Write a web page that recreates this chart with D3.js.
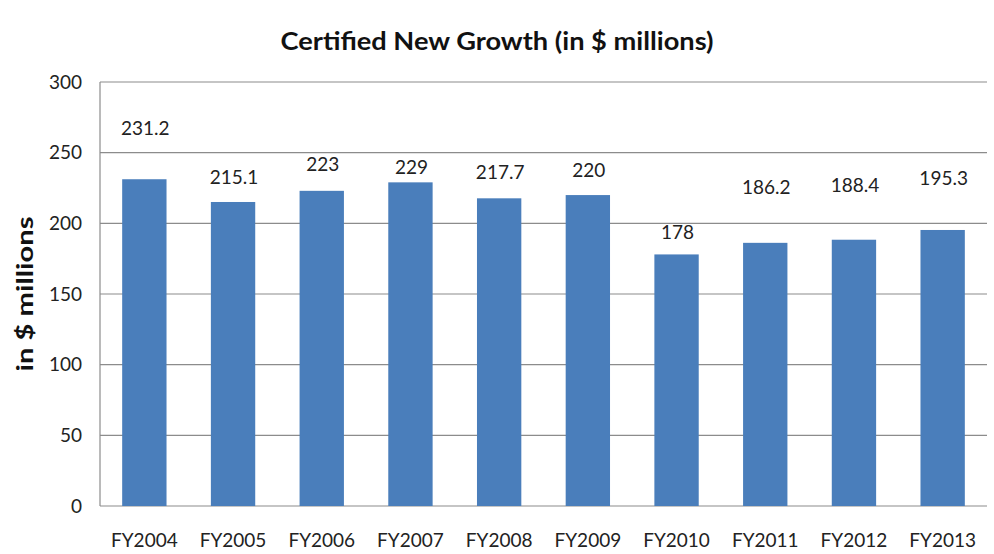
<!DOCTYPE html>
<html>
<head>
<meta charset="utf-8">
<script src="https://cdn.jsdelivr.net/npm/d3@7"></script>
<style>
  body { margin: 0; background: #fff; }
  svg { display: block; font-family: Lato, "Open Sans", sans-serif; }
</style>
</head>
<body>
<svg id="chart" width="994" height="554"></svg>
<script>
const years = ['FY2004', 'FY2005', 'FY2006', 'FY2007', 'FY2008', 'FY2009', 'FY2010', 'FY2011', 'FY2012', 'FY2013'];
const growth = [231.2, 215.1, 223, 229, 217.7, 220, 178, 186.2, 188.4, 195.3];
// where each value label sits, in axis units (labels were placed by hand in the original)
const labelAt = [267.5, 232.8, 241.7, 239.6, 236.2, 237.7, 193.6, 225.8, 227.2, 231.5];
const yTicks = [0, 50, 100, 150, 200, 250, 300];

const width = 994;
const height = 554;
const margin = { top: 82, right: 7, bottom: 48, left: 100 };

const svg = d3.select('#chart');

const x = d3.scaleBand()
  .domain(years)
  .range([margin.left, width - margin.right])
  .paddingInner(0.5)
  .paddingOuter(0.25);

const y = d3.scaleLinear()
  .domain([0, 300])
  .range([height - margin.bottom, margin.top]);

// gridlines
svg.append('g')
  .selectAll('line')
  .data(yTicks)
  .join('line')
  .attr('x1', margin.left)
  .attr('x2', width - margin.right)
  .attr('y1', (d) => y(d))
  .attr('y2', (d) => y(d))
  .attr('stroke', '#8c8c8c')
  .attr('stroke-width', 1.2);

// y axis line
svg.append('line')
  .attr('x1', margin.left).attr('x2', margin.left)
  .attr('y1', y(300)).attr('y2', y(0))
  .attr('stroke', '#8c8c8c')
  .attr('stroke-width', 1.2);

// y tick labels
const yAxis = svg.append('g')
  .attr('transform', `translate(${margin.left - 18},0)`)
  .call(d3.axisLeft(y).tickValues(yTicks).tickSize(0).tickPadding(0));
yAxis.select('.domain').remove();
yAxis.selectAll('text')
  .attr('font-size', 19)
  .attr('font-family', 'Lato, sans-serif')
  .attr('fill', '#222');

// bars
svg.append('g')
  .selectAll('rect')
  .data(growth)
  .join('rect')
  .attr('x', (d, i) => x(years[i]))
  .attr('y', (d) => y(d))
  .attr('width', x.bandwidth())
  .attr('height', (d) => y(0) - y(d))
  .attr('fill', '#4a7ebb');

// value labels
svg.append('g')
  .selectAll('text')
  .data(growth)
  .join('text')
  .attr('x', (d, i) => x(years[i]) + x.bandwidth() / 2 + 1)
  .attr('y', (d, i) => y(labelAt[i]))
  .attr('dy', '0.35em')
  .attr('text-anchor', 'middle')
  .attr('font-size', 19)
  .attr('fill', '#222')
  .text((d) => d);

// x labels
const xAxis = svg.append('g')
  .attr('transform', `translate(0,${y(0) + 27})`)
  .call(d3.axisBottom(x).tickSize(0).tickPadding(0));
xAxis.select('.domain').remove();
xAxis.selectAll('text')
  .attr('font-size', 19)
  .attr('font-family', 'Lato, sans-serif')
  .attr('fill', '#222');

// title
svg.append('text')
  .attr('x', 497)
  .attr('y', 50)
  .attr('text-anchor', 'middle')
  .attr('font-size', 24)
  .attr('font-weight', 'bold')
  .attr('fill', '#111')
  .attr('textLength', 433)
  .attr('lengthAdjust', 'spacingAndGlyphs')
  .text('Certified New Growth (in $ millions)');

// y axis title
svg.append('text')
  .attr('transform', `translate(33,${(y(0) + y(300)) / 2}) rotate(-90)`)
  .attr('text-anchor', 'middle')
  .attr('font-size', 22)
  .attr('font-weight', 'bold')
  .attr('fill', '#111')
  .attr('textLength', 155)
  .attr('lengthAdjust', 'spacingAndGlyphs')
  .text('in $ millions');
</script>
</body>
</html>
